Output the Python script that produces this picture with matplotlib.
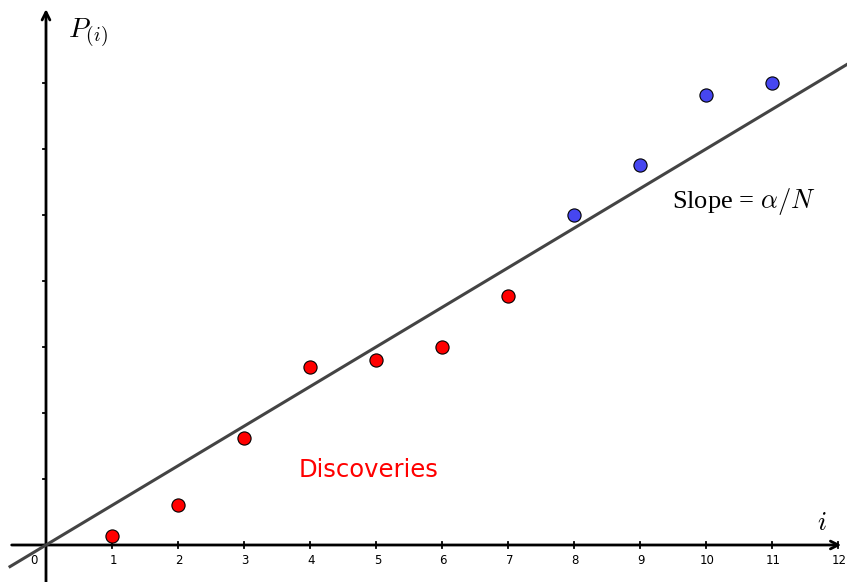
import matplotlib
matplotlib.use("Agg")
import matplotlib.pyplot as plt
import numpy as np

plt.rcParams['mathtext.fontset'] = 'cm'

# data
disc_i = [1, 2, 3, 4, 5, 6, 7]
disc_p = [0.14, 0.61, 1.62, 2.70, 2.80, 3.00, 3.77]
nondisc_i = [8, 9, 10, 11]
nondisc_p = [5.00, 5.76, 6.82, 7.00]
slope = 0.6
xticks = list(range(0, 13))
yticks = [1, 2, 3, 4, 5, 6, 7]

unit = 66.0
W, H = 847, 582
ox, oy = 46, 545
fig = plt.figure(figsize=(W / 100, H / 100), dpi=100)
ax = fig.add_axes([0, 0, 1, 1])
ax.set_xlim(-ox / unit, (W - ox) / unit)
ax.set_ylim(-(H - oy) / unit, oy / unit)
ax.axis('off')

xmin, xmax = ax.get_xlim()
ymin, ymax = ax.get_ylim()

# axes with arrows
ax.annotate('', xy=(12.05, 0), xytext=(-0.52, 0),
            arrowprops=dict(arrowstyle='->', lw=2, color='black',
                            shrinkA=0, shrinkB=0, mutation_scale=14))
ax.annotate('', xy=(0, 8.12), xytext=(0, ymin),
            arrowprops=dict(arrowstyle='->', lw=2, color='black',
                            shrinkA=0, shrinkB=0, mutation_scale=14))

# ticks
tl = 3 / unit
for t in xticks[1:]:
    ax.plot([t, t], [-tl, tl], color='black', lw=1.3, zorder=2)
    ax.text(t + 0.02, -0.23, str(t), ha='center', va='center', fontsize=8.5,
            family='DejaVu Sans')
ax.text(-0.18, -0.23, '0', ha='center', va='center', fontsize=8.5,
        family='DejaVu Sans')
for t in yticks:
    ax.plot([-tl, 0], [t, t], color='black', lw=1.3, zorder=2)

# line
xs = np.array([-0.545, xmax])
ax.plot(xs, slope * xs, color='#444444', lw=2.2, zorder=3)

# points
ax.scatter(disc_i, disc_p, s=90, color='#ff0000', edgecolors='black',
           linewidths=0.8, zorder=4)
ax.scatter(nondisc_i, nondisc_p, s=90, color='#4646f0', edgecolors='black',
           linewidths=0.8, zorder=4)

# labels
ax.text(0.33, 7.76, r'$P_{(i)}$', fontsize=20, ha='left', va='center')
ax.text(11.75, 0.33, r'$i$', fontsize=19, ha='center', va='center')
ax.text(9.48, 5.2, r'Slope = $\alpha/N$', fontsize=19, ha='left', va='center',
        family='Liberation Serif')
ax.text(4.88, 1.14, 'Discoveries', fontsize=17.5, color='#ff0000', ha='center',
        va='center', family='DejaVu Sans')

fig.savefig('out.png', dpi=100)
